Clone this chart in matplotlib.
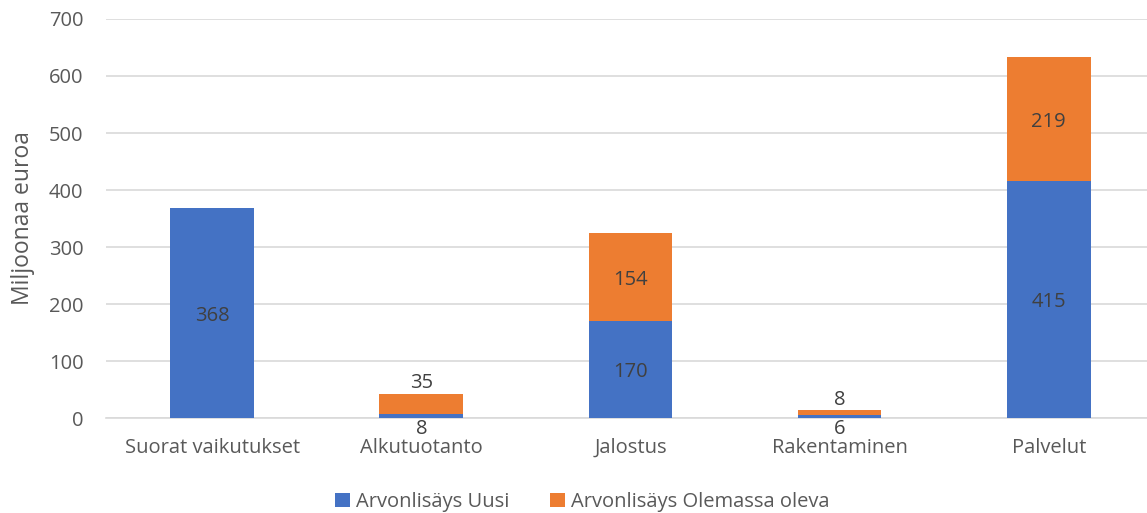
import matplotlib
matplotlib.use("Agg")
import matplotlib.pyplot as plt
import numpy as np

plt.rcParams['font.family'] = ['Open Sans', 'DejaVu Sans']

# Arvot kuvasta
kategoriat = ['Suorat vaikutukset', 'Alkutuotanto', 'Jalostus', 'Rakentaminen', 'Palvelut']
uusi = [368, 8, 170, 6, 415]
olemassa = [0, 35, 154, 8, 219]

sininen = '#4472C4'
oranssi = '#ED7D31'
harmaa = '#595959'
fs = 14.5

fig = plt.figure(figsize=(11.47, 5.13), dpi=100)
ax = fig.add_axes([0.092, 0.185, 0.908, 0.778])

x = np.arange(len(kategoriat))
leveys = 0.4
ax.bar(x, uusi, leveys, color=sininen, label='Arvonlisäys Uusi', zorder=3)
ax.bar(x, olemassa, leveys, bottom=uusi, color=oranssi,
       label='Arvonlisäys Olemassa oleva', zorder=3)

# Arvojen tekstit (pienet palkit: teksti palkin ulkopuolelle)
for i in range(len(x)):
    u = uusi[i]
    o = olemassa[i]
    if u > 50:
        ax.text(x[i], u / 2, str(u), ha='center', va='center_baseline', fontsize=fs, color='#404040', zorder=4)
    else:
        ax.annotate(str(u), (x[i], 0), xytext=(0, -7.5), textcoords='offset points',
                    ha='center', va='center', fontsize=fs, color='#404040')
    if o > 50:
        ax.text(x[i], u + o / 2, str(o), ha='center', va='center_baseline', fontsize=fs, color='#404040', zorder=4)
    elif o > 0:
        ax.annotate(str(o), (x[i], u + o), xytext=(0, 7.5), textcoords='offset points',
                    ha='center', va='center', fontsize=fs, color='#404040')

ax.set_ylim(0, 700)
ax.set_xlim(-0.51, 4.47)
ax.set_yticks(range(0, 701, 100))
ax.set_xticks(x)
ax.set_xticklabels(kategoriat)
ax.tick_params(axis='both', length=0, labelsize=fs, colors=harmaa)
ax.tick_params(axis='x', pad=14)
ax.tick_params(axis='y', pad=16)
ax.yaxis.grid(True, color='#D9D9D9', linewidth=1.2, zorder=0)
for s in ['top', 'right', 'left']:
    ax.spines[s].set_visible(False)
ax.spines['bottom'].set_color('#D9D9D9')
ax.spines['bottom'].set_linewidth(1.2)

ax.set_ylabel('Miljoonaa euroa', fontsize=16.5, color=harmaa, labelpad=10)

ax.legend(loc='center', bbox_to_anchor=(0.458, -0.21), ncol=2, frameon=False,
          fontsize=fs, labelcolor=harmaa, handlelength=0.75, handleheight=0.75,
          handletextpad=0.3, columnspacing=2.0, borderpad=0)

fig.savefig('out.png', dpi=100)
